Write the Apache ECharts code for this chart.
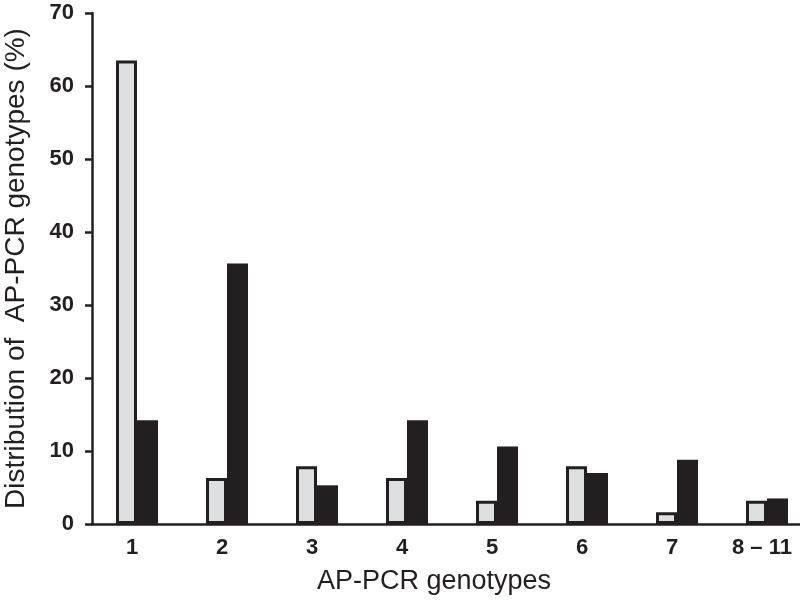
<!DOCTYPE html>
<html>

<head>
    <meta charset="utf8">
    <script src="https://cdn.jsdelivr.net/npm/echarts@6/dist/echarts.min.js"></script>
    <style>
        body { margin: 0; background: #fff; }
        #main { width: 800px; height: 605px; }
    </style>
</head>

<body>
    <div id="main"></div>
    <script type="text/javascript">
        // genotype categories on the x axis
        var genotypes = ['1', '2', '3', '4', '5', '6', '7', '8 \u2013 11'];
        // light grey bars (%)
        var greyValues = [63.5, 6.3, 7.9, 6.3, 3.2, 7.9, 1.6, 3.2];
        // black bars (%)
        var blackValues = [14.2, 35.7, 5.3, 14.2, 10.6, 7.0, 8.8, 3.5];

        var ink = '#231f20';
        var font = '"Liberation Sans", Arial, sans-serif';

        var chart = echarts.init(document.getElementById('main'));
        var option = {
            animation: false,
            backgroundColor: '#fff',
            grid: { left: 92, right: -12, top: 13, bottom: 81, containLabel: false, outerBoundsMode: 'none' },
            xAxis: {
                type: 'category',
                data: genotypes,
                name: 'AP-PCR genotypes',
                nameLocation: 'middle',
                nameGap: 44,
                nameTextStyle: { fontFamily: font, fontSize: 27, color: ink, padding: [0, 36, 0, 0] },
                axisLine: { lineStyle: { color: ink, width: 2.5 } },
                axisTick: { show: false },
                axisLabel: {
                    fontFamily: font, fontSize: 22, fontWeight: 'bold', color: ink,
                    margin: 13, padding: [0, 10, 0, 0]
                }
            },
            yAxis: {
                type: 'value',
                min: 0,
                max: 70,
                interval: 10,
                name: 'Distribution of  AP-PCR genotypes (%)',
                nameLocation: 'middle',
                nameGap: 62,
                nameTextStyle: { fontFamily: font, fontSize: 28, color: ink },
                axisLine: { show: true, lineStyle: { color: ink, width: 2.5 } },
                axisTick: { show: true, length: 7, lineStyle: { color: ink, width: 2.5 } },
                splitLine: { show: false },
                axisLabel: { fontFamily: font, fontSize: 22, fontWeight: 'bold', color: ink, margin: 18 }
            },
            series: [{
                type: 'bar',
                data: greyValues,
                barWidth: 21,
                barGap: '0%',
                itemStyle: { color: '#dedfe1', borderColor: ink, borderWidth: 3 }
            }, {
                type: 'bar',
                data: blackValues,
                barWidth: 21,
                itemStyle: { color: ink }
            }]
        };
        chart.setOption(option);
    </script>
</body>

</html>
